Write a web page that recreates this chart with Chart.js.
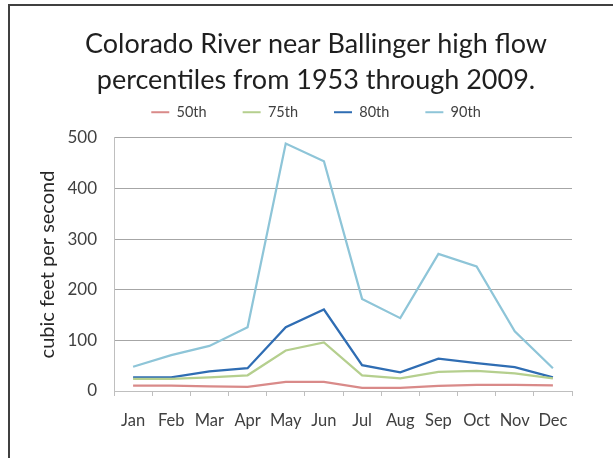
<!DOCTYPE html>
<html>
<head>
<meta charset="utf-8">
<script src="https://cdn.jsdelivr.net/npm/chart.js@4"></script>
<style>
    html, body { margin: 0; padding: 0; background: #fff; overflow: hidden; }
    #kt_chart { display: block; }
</style>
</head>
<body>
<canvas id="kt_chart" width="613" height="458"></canvas>
<script>
"use strict";

// Chart labels and values
const months = ['Jan', 'Feb', 'Mar', 'Apr', 'May', 'Jun', 'Jul', 'Aug', 'Sep', 'Oct', 'Nov', 'Dec'];
const p50 = [10.5, 10.5, 9, 8, 18, 18, 6, 6, 10, 12, 12, 11];
const p75 = [24, 24, 27, 31, 80, 96, 31, 25, 38, 40, 35, 25];
const p80 = [27, 27, 39, 45, 126, 161, 51, 37, 64, 55, 47, 27];
const p90 = [48, 71, 89, 126, 489, 454, 182, 144, 271, 246, 118, 45];
const yTicks = [0, 100, 200, 300, 400, 500];
const seriesNames = ['50th', '75th', '80th', '90th'];

var fontFamily = 'Lato, "Open Sans", sans-serif';
var textColor = '#404040';

var makeSet = function (name, data, color) {
    return {
        label: name,
        data: data,
        borderColor: color,
        backgroundColor: color,
        borderWidth: 2.25,
        pointRadius: 0,
        tension: 0,
        fill: false
    };
};

// legend box gets a fixed height so the plot starts where it should
var legendHeight = {
    id: 'legendHeight',
    beforeInit: function (c) {
        var fitValue = c.legend.fit;
        c.legend.fit = function () {
            fitValue.bind(c.legend)();
            this.height = 69;
        };
    }
};

// outer chart frame (only its top and left edges are inside the picture)
var chartFrame = {
    id: 'chartFrame',
    beforeDraw: function (c) {
        var g = c.ctx;
        g.save();
        g.strokeStyle = '#404040';
        g.lineWidth = 2;
        g.beginPath();
        g.moveTo(9, c.height);
        g.lineTo(9, 5);
        g.lineTo(c.width, 5);
        g.stroke();
        g.restore();
    }
};

var ctx = document.getElementById('kt_chart');
var chart = new Chart(ctx, {
    type: 'line',
    data: {
        labels: months,
        datasets: [
            makeSet(seriesNames[0], p50, '#D98A89'),
            makeSet(seriesNames[1], p75, '#B5CF8E'),
            makeSet(seriesNames[2], p80, '#2F6DB3'),
            makeSet(seriesNames[3], p90, '#8EC5D8')
        ]
    },
    plugins: [legendHeight, chartFrame],
    options: {
        responsive: false,
        animation: false,
        devicePixelRatio: 1,
        layout: {
            padding: { left: 19, right: 0, top: 6, bottom: 0 }
        },
        plugins: {
            title: {
                display: true,
                text: ['Colorado River near Ballinger high flow', 'percentiles from 1953 through 2009.'],
                color: '#1F1F1F',
                font: { family: fontFamily, size: 27, weight: 'normal', lineHeight: 1.333 },
                padding: { top: 20, bottom: -29 }
            },
            legend: {
                display: true,
                position: 'top',
                labels: {
                    color: textColor,
                    font: { family: fontFamily, size: 14.5 },
                    boxWidth: 18,
                    boxHeight: 2,
                    padding: 36,
                    generateLabels: function (c) {
                        var items = Chart.defaults.plugins.legend.labels.generateLabels(c);
                        items.forEach(function (it) {
                            it.fillStyle = it.strokeStyle;
                            it.lineWidth = 0;
                        });
                        return items;
                    }
                }
            },
            tooltip: { enabled: false }
        },
        scales: {
            x: {
                offset: true,
                grid: {
                    display: true,
                    drawOnChartArea: false,
                    drawTicks: true,
                    tickLength: 5,
                    offset: true,
                    color: '#BFBFBF'
                },
                border: { display: true, color: '#BFBFBF', width: 1 },
                ticks: {
                    color: textColor,
                    font: { family: fontFamily, size: 16.5 },
                    padding: 15,
                    maxRotation: 0,
                    autoSkip: false
                },
                afterFit: function (scale) {
                    scale.height = 67;
                }
            },
            y: {
                min: 0,
                max: 500,
                afterBuildTicks: function (scale) {
                    scale.ticks = yTicks.map(function (v) { return { value: v }; });
                },
                grid: {
                    drawTicks: false,
                    color: function (c) {
                        return c.tick && c.tick.value === 0 ? '#BFBFBF' : '#A6A6A6';
                    }
                },
                border: { display: true, color: '#BFBFBF', width: 1 },
                ticks: {
                    color: textColor,
                    font: { family: fontFamily, size: 17 },
                    padding: 17
                },
                title: {
                    display: true,
                    text: 'cubic feet per second',
                    color: '#262626',
                    font: { family: fontFamily, size: 20 },
                    padding: { top: 17, bottom: 0 }
                },
                afterFit: function (scale) {
                    scale.width = 95;
                }
            },
            // empty right margin, keeps title and legend centred on the whole frame
            yRight: {
                position: 'right',
                display: true,
                grid: { display: false },
                border: { display: false },
                ticks: { display: false },
                afterFit: function (scale) {
                    scale.width = 41;
                }
            }
        }
    }
});
</script>
</body>
</html>
